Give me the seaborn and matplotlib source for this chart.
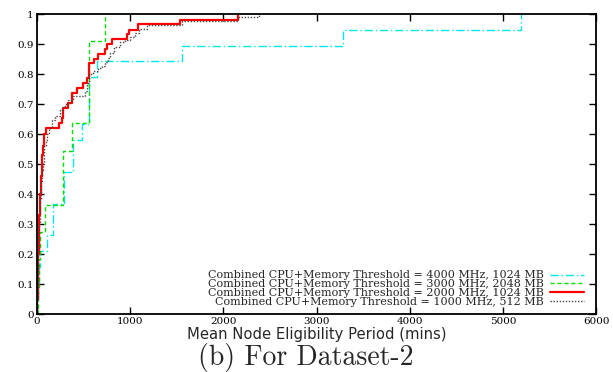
import matplotlib
matplotlib.use("Agg")
import matplotlib.pyplot as plt
import seaborn as sns
import pandas as pd

# ---- data ----
labels = [
    "Combined CPU+Memory Threshold = 4000 MHz, 1024 MB",
    "Combined CPU+Memory Threshold = 3000 MHz, 2048 MB",
    "Combined CPU+Memory Threshold = 2000 MHz, 1024 MB",
    "Combined CPU+Memory Threshold = 1000 MHz, 512 MB",
]

cyan_x = [0, 5, 12, 20, 30, 107, 175, 285, 390, 480, 558, 640, 1560, 3280, 5190]
cyan_y = [0, 0.053, 0.105, 0.158, 0.211, 0.263, 0.368, 0.474, 0.579, 0.632,
          0.789, 0.842, 0.895, 0.947, 1.0]

green_x = [0, 10, 20, 32, 86, 280, 376, 558, 730]
green_y = [0, 0.091, 0.182, 0.273, 0.364, 0.545, 0.636, 0.909, 1.0]

red_x = [0, 3, 6, 10, 14, 18, 22, 26, 30, 35, 40, 45, 50, 56, 62, 70, 80, 97,
         236, 265, 282, 336, 372, 426, 497, 540, 561, 612, 658, 730, 748, 801,
         962, 990, 1087, 1534, 2160]
red_y = [0, 0.05, 0.1, 0.15, 0.2, 0.25, 0.3, 0.33, 0.36, 0.4, 0.43, 0.46, 0.5,
         0.53, 0.56, 0.58, 0.60, 0.621, 0.636, 0.653, 0.686, 0.702, 0.736, 0.752,
         0.769, 0.786, 0.836, 0.85, 0.867, 0.884, 0.9, 0.916, 0.933, 0.947,
         0.967, 0.98, 1.0]

black_x = [0, 3, 6, 10, 14, 18, 22, 27, 32, 38, 44, 50, 56, 61, 70, 80, 92, 104,
           125, 158, 193, 247, 275, 300, 330, 383, 515, 535, 558, 600, 650, 694,
           730, 760, 783, 830, 890, 940, 1000, 1051, 1100, 1177, 1552, 2157, 2382]
black_y = [0, 0.05, 0.1, 0.15, 0.2, 0.25, 0.3, 0.34, 0.38, 0.41, 0.44, 0.46,
           0.48, 0.5, 0.53, 0.56, 0.58, 0.6, 0.62, 0.647, 0.66, 0.68, 0.69, 0.7,
           0.713, 0.727, 0.745, 0.77, 0.8, 0.81, 0.82, 0.827, 0.84, 0.855, 0.87,
           0.89, 0.908, 0.915, 0.925, 0.937, 0.95, 0.963, 0.978, 0.991, 1.0]

x_ticks = [0, 1000, 2000, 3000, 4000, 5000, 6000]
y_ticks = [0, 0.1, 0.2, 0.3, 0.4, 0.5, 0.6, 0.7, 0.8, 0.9, 1.0]
y_ticklabels = ["0", "0.1", "0.2", "0.3", "0.4", "0.5", "0.6", "0.7", "0.8", "0.9", "1"]

series = [
    (cyan_x, cyan_y, labels[0], "#00e8e8", (0, (6, 2, 1, 2)), 1.0),
    (green_x, green_y, labels[1], "#00dd00", (0, (3, 2)), 1.0),
    (red_x, red_y, labels[2], "#ff0000", "-", 1.6),
    (black_x, black_y, labels[3], "#444444", (0, (1, 1.2)), 1.0),
]

# ---- plot ----
sns.set_style("ticks")
plt.rcParams["font.family"] = ["DejaVu Serif"]

fig = plt.figure(figsize=(6.13, 3.72), dpi=100)
ax = fig.add_axes([37 / 613, 1 - 314 / 372, (596 - 37) / 613, (314 - 14) / 372])

for xs, ys, lab, col, ls, lw in series:
    df = pd.DataFrame({"x": xs, "y": ys})
    sns.lineplot(data=df, x="x", y="y", ax=ax, color=col, linestyle=ls,
                 linewidth=lw, label=lab, drawstyle="steps-post",
                 estimator=None, sort=False)

ax.set_xlim(0, 6000)
ax.set_ylim(0, 1)
ax.set_xticks(x_ticks)
ax.set_xticklabels([str(t) for t in x_ticks])
ax.set_yticks(y_ticks)
ax.set_yticklabels(y_ticklabels)
ax.tick_params(direction="in", length=5, width=1.0, top=True, right=True,
               labelsize=7.5, pad=2.5, colors="black")
for s in ax.spines.values():
    s.set_visible(True)
    s.set_linewidth(1.3)
    s.set_color("black")

ax.set_xlabel("Mean Node Eligibility Period (mins)", family="DejaVu Sans",
              fontsize=10.6, labelpad=0.3)
ax.set_ylabel("")

leg = ax.legend(loc="lower right", bbox_to_anchor=(0.992, -0.003), frameon=False,
                markerfirst=False, fontsize=8.05, handlelength=3.0,
                labelspacing=-0.1, handletextpad=0.6, borderpad=0.2)

fig.text(306 / 613, 1 - 357 / 372, "(b) For Dataset-2", family="cmr10",
         fontsize=20, ha="center", va="center")

fig.savefig("out.png", dpi=100)
